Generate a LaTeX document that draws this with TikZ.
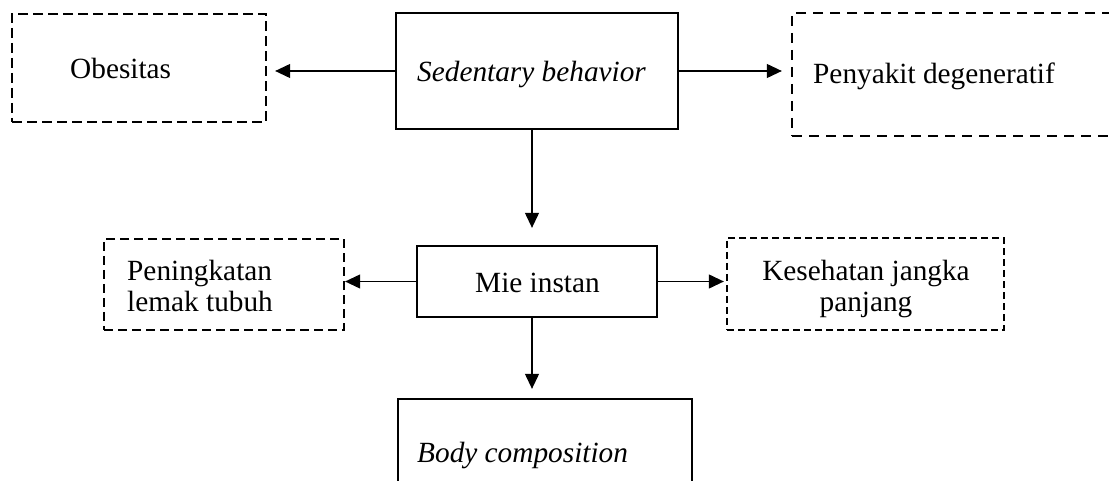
\documentclass[tikz,border=0pt]{standalone}
\usepackage{fontspec}
\setmainfont{Liberation Serif}
\usetikzlibrary{arrows.meta}
\tikzset{
  solidbox/.style={draw, line width=2.3pt, rectangle, inner sep=0pt, minimum width=#1},
  dashbox/.style={draw, line width=2.3pt, rectangle, inner sep=0pt},
  lbl/.style={inner sep=0pt, font=\fontsize{29.3}{32}\selectfont},
  arr/.style={line width=1.1pt, -{Triangle[length=15pt, width=14pt]}}
}
\begin{document}
\begin{tikzpicture}[x=1pt, y=-1pt]
\useasboundingbox (0,0) rectangle (1109,481);
\clip (0,0) rectangle (1109,481);
% boxes
\node[dashbox, dash pattern=on 10pt off 5pt, minimum width=254pt, minimum height=108pt] (ob) at (139,68) {};
\node[solidbox=282pt, minimum height=116pt] (sb) at (537,71) {};
\node[dashbox, dash pattern=on 10pt off 7pt, minimum width=328pt, minimum height=123pt] (pd) at (956,74.5) {};
\node[dashbox, dash pattern=on 9pt off 5pt, minimum width=240pt, minimum height=91pt] (pl) at (224,284.5) {};
\node[solidbox=240pt, minimum height=71pt] (mi) at (537,281.5) {};
\node[dashbox, dash pattern=on 7pt off 4pt, minimum width=277pt, minimum height=92pt] (kj) at (865.5,284) {};
\node[solidbox=294pt, minimum height=101pt] (bc) at (545,449.5) {};
% texts
\node[lbl, anchor=base west] (tob) at (70,79) {Obesitas};
\node[lbl, anchor=base west] (tsb) at (417,82) {\itshape Sedentary behavior};
\node[lbl, anchor=base west] (tpd) at (813,84) {Penyakit degeneratif};
\node[lbl, anchor=base west] (tpl1) at (127,280) {Peningkatan};
\node[lbl, anchor=base west] (tpl2) at (127,312) {lemak tubuh};
\node[lbl, anchor=base west] (tmi) at (475,293) {Mie instan};
\node[lbl, anchor=base] (tkj1) at (866,280) {Kesehatan jangka};
\node[lbl, anchor=base] (tkj2) at (866,312) {panjang};
\node[lbl, anchor=base west] (tbc) at (417,462) {\itshape Body composition};
% connectors
\draw[arr, shorten >=8pt] (sb.west) -- (sb.west -| ob.east);
\draw[arr, shorten >=9pt] (sb.east) -- (sb.east -| pd.west);
\draw[arr, shorten >=17pt] ([xshift=-5pt]sb.south) -- ([xshift=-5pt]sb.south |- mi.north);
\draw[arr] (mi.west) -- (mi.west -| pl.east);
\draw[arr, shorten >=2pt] (mi.east) -- (mi.east -| kj.west);
\draw[arr, shorten >=9pt] ([xshift=-5pt]mi.south) -- ([xshift=-5pt]mi.south |- bc.north);
\end{tikzpicture}
\end{document}
